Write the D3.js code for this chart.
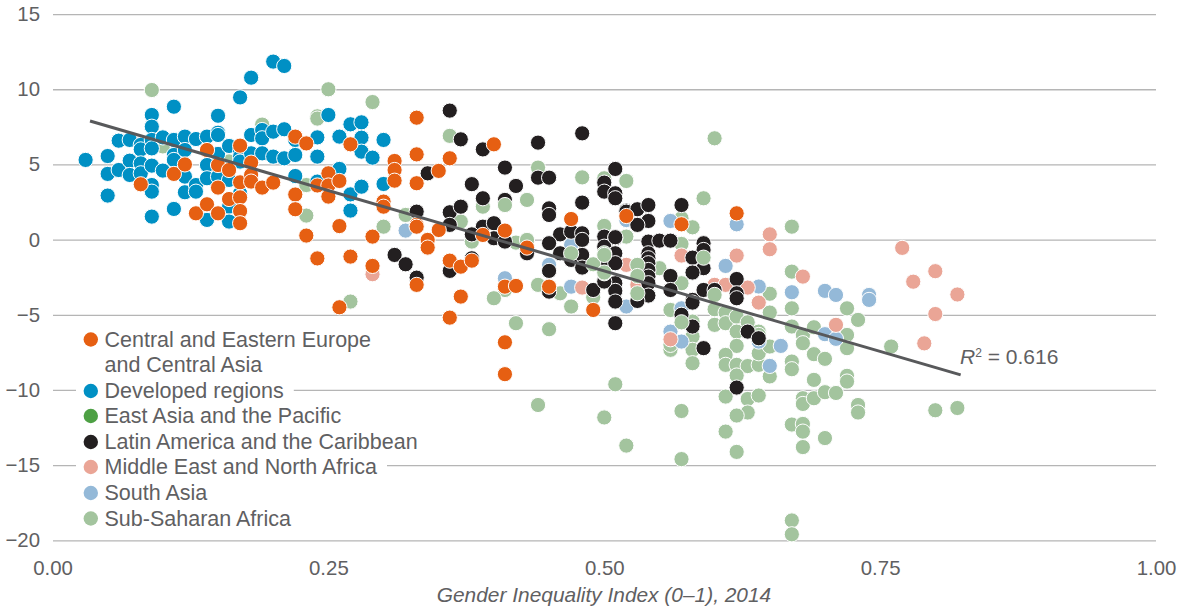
<!DOCTYPE html>
<html><head><meta charset="utf-8">
<script src="https://cdn.jsdelivr.net/npm/d3@7"></script>
<style>
html,body{margin:0;padding:0;background:#fff}
text{font-family:"Liberation Sans",Arial,sans-serif;fill:#5f6062}
</style></head><body><svg id="c" width="1183" height="611"></svg>
<script>
const xTicks=[0,0.25,0.5,0.75,1];
const yTicks=[15,10,5,0,-5,-10,-15,-20];
const legendLabels=[["Central and Eastern Europe","and Central Asia"],["Developed regions"],["East Asia and the Pacific"],["Latin America and the Caribbean"],["Middle East and North Africa"],["South Asia"],["Sub-Saharan Africa"]];
const legendColors=["#e65f12","#0090c4","#4da044","#231f20","#eaa596","#94b9d8","#a3c49e"];
const trendX=[0.034,0.823];
const trendY=[7.89,-9.0];
const subSaharanUnder=[[.09,9.95],[.19,7.65],[.25,10],[.29,9.15],[.24,8.2],[.24,8.05],[.10,6.2],[.16,5.2],[.23,3.63],[.23,1.6],[.27,-4.12],[.36,6.9],[.44,4.79],[.48,4.14],[.50,4.08],[.52,3.92],[.43,2.64],[.39,2.19],[.32,1.64],[.37,1.2],[.30,.86],[.38,-.13],[.42,-.2],[.43,-.02],[.52,.2],[.44,-3.01],[.41,-3.35],[.40,-3.9],[.46,-3.57],[.47,-4.45],[.49,-3.83],[.42,-5.56],[.45,-5.96],[.44,-11],[.50,-11.83],[.51,-9.62],[.52,-13.7],[.57,-11.4],[.57,-14.6],[.60,6.74],[.59,2.75],[.52,3.9],[.50,4.08],[.58,.82],[.57,1.42],[.67,.86],[.50,.91],[.52,.2],[.55,-1.9],[.57,-.29],[.57,-2.9],[.67,-2.13],[.56,-4.68],[.58,-5.45],[.58,-6.45],[.56,-7.33],[.56,-7.0],[.58,-7.33],[.58,-8.22],[.60,-4.63],[.60,-5.67],[.61,-4.85],[.61,-5.56],[.62,-5.12],[.63,-5.5],[.62,-6.12],[.64,-6.12],[.64,-6.34],[.62,-7.07],[.61,-7.67],[.61,-8.33],[.62,-8.33],[.63,-8.41],[.64,-8.33],[.64,-7.56],[.65,-7.11],[.65,-3.6],[.65,-4.85],[.67,-4.57],[.67,-5.78],[.68,-6.34],[.68,-6.89],[.69,-5.83],[.69,-7.62],[.70,-7.93],[.72,-4.57],[.72,-6.34],[.72,-7.22],[.73,-5.34],[.76,-7.11],[.67,-8.11],[.67,-8.62],[.65,-9.1],[.69,-9.33],[.72,-9.06],[.72,-9.44],[.62,-9.04],[.61,-10.44],[.63,-10.6],[.64,-10.37],[.63,-11.5],[.62,-11.7],[.61,-12.77],[.62,-14.12],[.68,-10.55],[.68,-10.93],[.69,-10.55],[.70,-10.15],[.71,-10.2],[.73,-11],[.73,-11.5],[.67,-12.3],[.68,-12.26],[.68,-12.77],[.70,-13.2],[.68,-13.8],[.67,-18.68],[.67,-19.6],[.80,-11.35],[.82,-11.2]];
const southAsia=[[.56,1.24],[.62,1.02],[.52,1.3],[.61,-1.75],[.64,-3.12],[.67,-3.5],[.70,-3.41],[.71,-3.68],[.74,-3.68],[.74,-4.01],[.52,-4.45],[.57,-4.57],[.56,-6.12],[.57,-6.78],[.66,-7.07],[.65,-8.4],[.70,-6.29],[.71,-6.6],[.64,-6.78],[.32,.6],[.47,-.35],[.47,-3.13],[.41,-2.57],[.45,-1.68]];
const middleEast=[[.77,-.55],[.78,-2.8],[.80,-2.1],[.82,-3.65],[.80,-4.95],[.79,-6.9],[.68,-2.46],[.65,.35],[.65,-.64],[.62,-1.06],[.57,-1.06],[.52,-1.68],[.60,-3.01],[.61,-3.01],[.63,-3.19],[.64,-4.19],[.71,-5.67],[.56,-6.63],[.48,-3.19],[.29,-2.3],[.53,-3.01]];
const latinAmerica=[[.36,8.58],[.37,6.67],[.39,6.0],[.44,6.45],[.48,7.07],[.34,4.41],[.41,4.79],[.38,3.69],[.42,3.57],[.44,4.12],[.45,4.12],[.51,4.7],[.50,3.79],[.50,3.19],[.51,3.08],[.51,2.75],[.39,2.75],[.41,2.64],[.48,2.46],[.45,2.08],[.45,1.64],[.33,1.86],[.36,1.82],[.37,2.19],[.36,.98],[.52,1.93],[.39,.86],[.40,1.09],[.38,.35],[.40,.09],[.41,-.13],[.46,.35],[.47,.53],[.48,.42],[.48,-.02],[.45,-.24],[.46,-.91],[.47,-1.35],[.48,-1.02],[.48,-1.86],[.50,.2],[.51,.09],[.50,-.47],[.51,-.91],[.50,-1.35],[.50,-2.68],[.51,-1.57],[.31,-1.02],[.32,-1.64],[.33,-2.53],[.36,-2.08],[.38,-1.24],[.43,-.91],[.45,-2.08],[.45,-3.46],[.49,-3.35],[.51,-2.9],[.51,-3.41],[.51,-4.12],[.51,-5.56],[.52,1.86],[.53,2.02],[.54,2.3],[.54,1.24],[.53,.98],[.57,2.3],[.51,.16],[.54,-.13],[.55,-.07],[.56,-.07],[.59,-.24],[.59,-.69],[.58,-1.2],[.59,-1.9],[.58,-2.19],[.56,-2.42],[.56,-3.35],[.54,-.91],[.54,-1.24],[.54,-1.57],[.54,-2.02],[.54,-2.46],[.54,-2.9],[.54,-3.72],[.53,-4.08],[.50,-2.79],[.58,-4.01],[.58,-4.19],[.59,-3.35],[.60,-3.35],[.62,-2.62],[.62,-3.57],[.62,-3.9],[.57,-5.0],[.58,-5.78],[.63,-6.12],[.64,-6.56],[.59,-7.22],[.62,-9.84]];
const developed=[[.03,5.3],[.05,5.56],[.05,4.37],[.05,2.93],[.06,6.58],[.06,4.63],[.07,6.63],[.07,5.25],[.07,4.3],[.08,6.3],[.08,6.0],[.08,5.07],[.08,4.41],[.09,8.29],[.09,7.51],[.09,6.63],[.09,6.07],[.09,4.92],[.09,3.63],[.09,3.19],[.09,1.53],[.10,6.8],[.10,4.59],[.11,8.84],[.11,6.63],[.11,5.63],[.11,5.3],[.11,2.04],[.12,6.85],[.12,5.96],[.12,4.19],[.12,3.15],[.13,6.69],[.13,3.63],[.13,3.19],[.14,6.85],[.14,4.96],[.14,4.08],[.14,1.31],[.15,8.24],[.15,7.11],[.15,6.96],[.15,5.7],[.15,4.19],[.16,6.23],[.16,3.97],[.16,2.19],[.16,1.2],[.17,9.46],[.17,5.85],[.17,5.52],[.17,5.19],[.17,3.08],[.18,10.77],[.18,6.96],[.18,5.74],[.19,7.29],[.19,6.74],[.19,5.74],[.20,11.84],[.20,7.18],[.20,5.52],[.21,11.55],[.21,7.34],[.21,5.41],[.22,6.63],[.22,5.63],[.22,4.23],[.24,6.8],[.24,5.52],[.24,3.86],[.25,8.29],[.26,6.85],[.26,4.7],[.27,7.67],[.28,7.8],[.28,6.78],[.28,5.85],[.29,5.45],[.30,6.63],[.27,3.01],[.28,3.52],[.27,1.93],[.30,3.7]];
const subSaharanOver=[[.41,2.3],[.47,-.91],[.49,-1.64],[.50,-.91],[.50,-1.02],[.50,-2.24],[.53,-1.68],[.53,-2.42],[.53,-3.57],[.50,-2.19],[.59,-1.2],[.57,-5.5],[.60,-3.68]];
const easternEurope=[[.08,3.68],[.11,4.37],[.12,5.0],[.13,1.75],[.14,2.35],[.14,5.96],[.15,1.75],[.15,3.46],[.15,4.96],[.16,2.7],[.16,4.63],[.17,6.25],[.17,3.81],[.17,2.81],[.17,1.9],[.17,1.09],[.18,5.12],[.18,4.3],[.18,3.86],[.19,3.46],[.20,3.79],[.22,6.85],[.23,6.4],[.22,3.0],[.22,2.02],[.23,.27],[.24,3.6],[.25,4.41],[.25,3.6],[.25,2.86],[.26,3.9],[.26,.9],[.24,-1.25],[.27,6.34],[.33,8.11],[.33,5.67],[.36,5.41],[.35,4.57],[.33,3.75],[.31,5.23],[.31,4.63],[.31,3.92],[.30,2.53],[.30,2.19],[.29,.2],[.27,-1.13],[.29,-1.75],[.33,.98],[.33,.86],[.35,.64],[.34,-.02],[.34,-.53],[.33,-3.01],[.36,-1.4],[.37,-1.8],[.38,-1.4],[.39,.31],[.41,.6],[.40,6.34],[.47,1.37],[.43,-.53],[.41,-3.13],[.42,-3.08],[.45,-3.13],[.37,-3.79],[.26,-4.5],[.36,-5.19],[.49,-4.68],[.41,-6.83],[.41,-8.95],[.52,1.57],[.57,1.02],[.62,1.75]];

const layers=[[subSaharanUnder,6],[southAsia,5],[middleEast,4],[latinAmerica,3],[developed,1],[subSaharanOver,6],[easternEurope,0]];
const svg=d3.select("#c");
const x=d3.scaleLinear().domain([0,1]).range([52.5,1156]);
const y=d3.scaleLinear().domain([-20,15]).range([540.3,14.1]);

const gy=svg.append("g").attr("transform","translate(53,0)")
 .call(d3.axisLeft(y).tickValues(yTicks).tickSize(-1103).tickPadding(13).tickFormat(d3.format("d")));
gy.select(".domain").remove();
gy.selectAll(".tick line").attr("stroke","#b5b5b5").attr("stroke-width",1.3);
gy.selectAll("text").style("font-size","20.4px");

const gx=svg.append("g").attr("transform","translate(0,540.3)")
 .call(d3.axisBottom(x).tickValues(xTicks).tickSize(0).tickPadding(20).tickFormat(d3.format(".2f")));
gx.select(".domain").remove();
gx.selectAll("text").style("font-size","20.4px");

layers.forEach(([pts,c])=>{
 svg.append("g").selectAll("circle").data(pts).join("circle")
  .attr("cx",d=>x(d[0])).attr("cy",d=>y(d[1])).attr("r",7.6)
  .attr("fill",legendColors[c]).attr("stroke","#fff").attr("stroke-width",1);
});

svg.append("line").attr("x1",x(trendX[0])).attr("y1",y(trendY[0])).attr("x2",x(trendX[1])).attr("y2",y(trendY[1]))
 .attr("stroke","#58595b").attr("stroke-width",3);

const note=svg.append("text").attr("x",960).attr("y",364).style("font-size","21px");
note.append("tspan").text("R").style("font-style","italic");
note.append("tspan").text("2").attr("dy",-7).style("font-size","12px");
note.append("tspan").text(" = 0.616").attr("dy",7);

svg.append("text").attr("x",604).attr("y",602).attr("text-anchor","middle")
 .style("font-size","20.9px").style("font-style","italic").text("Gender Inequality Index (0–1), 2014");

const lg=svg.append("g");
let row=0;
const rowY=[339.5,365,391,416,442,467,493,518.5];
legendLabels.forEach((lines,i)=>{
 lines.forEach((t,j)=>{
  const yy=rowY[row++];
  const tx=lg.append("text").attr("x",104.5).attr("y",yy+7).style("font-size","21.5px").text(t);
  const b=tx.node().getBBox();
  lg.insert("rect","text").attr("x",76).attr("y",yy-8).attr("width",b.x+b.width+10-76).attr("height",16).attr("fill","#fff");
  if(j===0) lg.append("circle").attr("cx",90.8).attr("cy",yy).attr("r",7.2).attr("fill",legendColors[i]);
 });
});
</script></body></html>
